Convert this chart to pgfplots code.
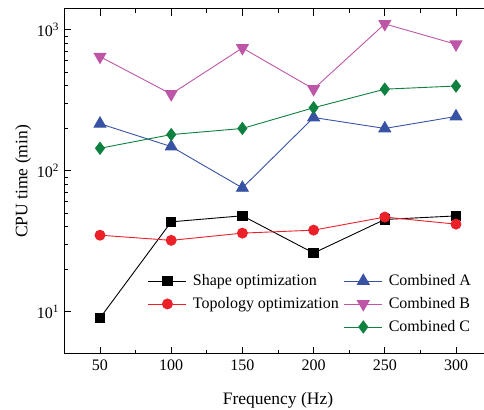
\documentclass[border=0pt]{standalone}
\usepackage{fontspec}
\setmainfont{Liberation Serif}
\usepackage{pgfplots}
\pgfplotsset{compat=1.18}
\definecolor{cred}{RGB}{236,32,40}
\definecolor{cblue}{RGB}{56,82,164}
\definecolor{cmag}{RGB}{190,86,168}
\definecolor{cgreen}{RGB}{14,128,64}
\begin{document}
\fontsize{16bp}{19bp}\selectfont%
\begin{tikzpicture}
\begin{axis}[
  at={(0,0)}, anchor=south west,
  scale only axis, width=427.2bp, height=345bp,
  ymode=log, xmin=25, xmax=325, ymin=5, ymax=1400,
  xtick={50,100,...,300}, minor x tick num=1,
  ytick={10,100,1000},
  yticklabels={10\textsuperscript{1},10\textsuperscript{2},10\textsuperscript{3}},
  /pgf/number format/assume math mode=true,
  tick label style={font=\fontsize{16bp}{19bp}\selectfont},
  major tick length=7bp, minor tick length=4bp,
  tick style={black, line width=0.8bp},
  axis line style={line width=1bp},
  xlabel={Frequency (Hz)}, ylabel={CPU time (min)},
  label style={font=\fontsize{17.5bp}{20bp}\selectfont},
  xlabel style={at={(axis description cs:0.5,-0.1333)}, anchor=center},
  ylabel style={at={(axis description cs:-0.0963,0.5)}, anchor=center},
  legend columns=2,
  legend style={draw=none, fill=none, inner sep=0pt, outer sep=0pt,
    at={(axis description cs:0.1957,0.237)}, anchor=north west,
    font=\fontsize{16bp}{19bp}\selectfont, row sep=5.5bp,
    cells={anchor=west},
    /tikz/every odd column/.append style={column sep=4bp},
    /tikz/every even column/.append style={column sep=3bp}},
  legend image code/.code={\draw[mark repeat=2,mark phase=2] plot coordinates {(0bp,0bp) (19bp,0bp) (38bp,0bp)};},
  every axis plot/.append style={line width=0.9bp},
]
\addplot[black, mark=square*, mark size=4.7bp] coordinates {(50,9.0) (100,43.3) (150,47.8) (200,26) (250,45) (300,47.7)};
\addlegendentry{Shape optimization}
\addplot[cblue, mark=triangle*, mark size=6.8bp] coordinates {(50,215) (100,148) (150,75.4) (200,238) (250,199) (300,242)};
\addlegendentry{Combined A}
\addplot[cred, mark=*, mark size=5bp] coordinates {(50,34.8) (100,32) (150,36) (200,37.8) (250,46.8) (300,41.7)};
\addlegendentry{Topology optimization}
\addplot[cmag, mark=triangle*, mark size=6.8bp, mark options={rotate=180}] coordinates {(50,643) (100,349) (150,741) (200,379) (250,1098) (300,787)};
\addlegendentry{Combined B}
\addlegendimage{empty legend}
\addlegendentry{}
\addplot[cgreen, mark=diamond*, mark size=6bp] coordinates {(50,144) (100,180) (150,199) (200,279) (250,378) (300,398)};
\addlegendentry{Combined C}
\end{axis}
\pgfresetboundingbox
\useasboundingbox (-64.4bp,-56bp) rectangle (419.6bp,354bp);
\end{tikzpicture}
\end{document}
